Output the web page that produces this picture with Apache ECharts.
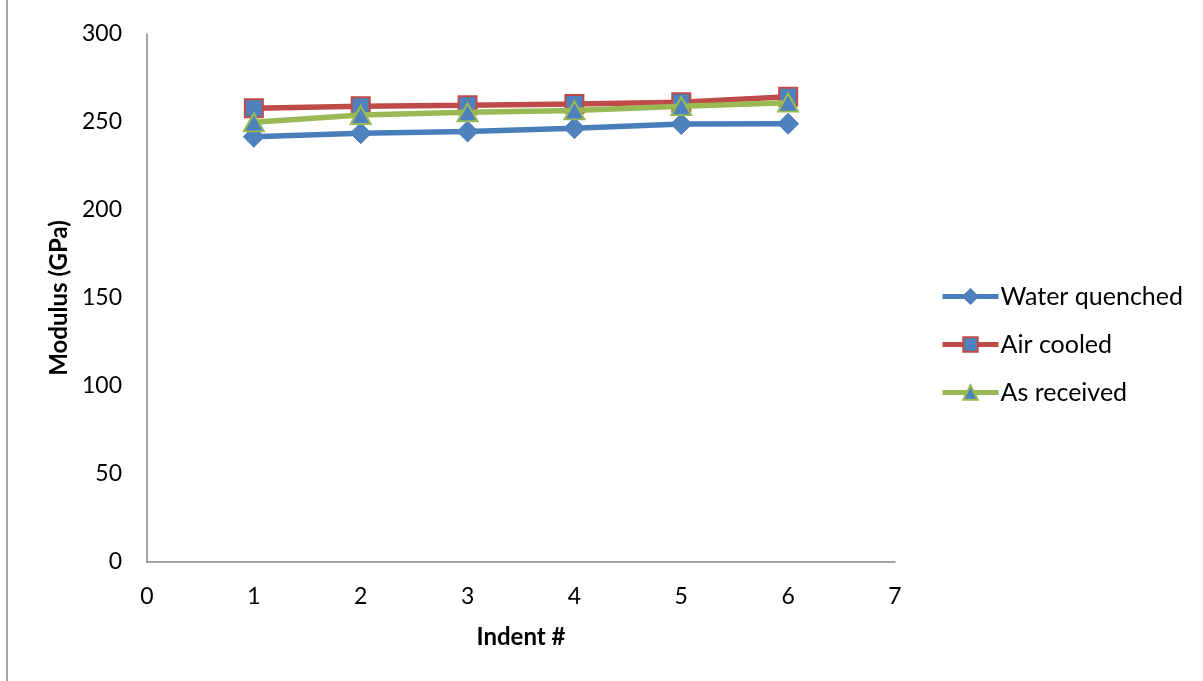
<!DOCTYPE html>
<html>
<head>
<meta charset="utf-8">
<script src="https://cdn.jsdelivr.net/npm/echarts@6/dist/echarts.min.js"></script>
<style>
html,body{margin:0;padding:0;background:#fff;}
#chart{width:1203px;height:681px;}
</style>
</head>
<body>
<div id="chart"></div>
<script>
const indents = [1, 2, 3, 4, 5, 6];
const waterQuenched = [241.6, 243.6, 244.6, 246.5, 248.8, 249.0];
const airCooled = [257.8, 259.0, 259.5, 260.2, 261.2, 264.3];
const asReceived = [249.8, 254.0, 255.5, 256.6, 259.0, 261.0];
const xTicks = [0, 1, 2, 3, 4, 5, 6, 7];
const yTicks = [0, 50, 100, 150, 200, 250, 300];

const FONT = 'Lato';
const pairs = vals => indents.map((x, i) => [x, vals[i]]);

const chart = echarts.init(document.getElementById('chart'), null, {renderer: 'canvas'});
chart.setOption({
  animation: false,
  backgroundColor: '#fff',
  textStyle: {fontFamily: FONT},
  graphic: [{
    type: 'line',
    shape: {x1: 7, y1: 0, x2: 7, y2: 681},
    style: {stroke: '#868686', lineWidth: 1.5}
  }],
  grid: {left: 147, right: 308, top: 34, bottom: 119, containLabel: false},
  xAxis: {
    type: 'value',
    min: xTicks[0], max: xTicks[xTicks.length - 1], interval: 1,
    name: 'Indent #', nameLocation: 'middle', nameGap: 63,
    nameTextStyle: {fontFamily: FONT, fontSize: 24, fontWeight: 'bold', color: '#000'},
    axisLine: {lineStyle: {color: '#868686', width: 1.5}},
    axisTick: {show: false},
    splitLine: {show: false},
    axisLabel: {margin: 23, fontFamily: FONT, fontSize: 23, color: '#000'}
  },
  yAxis: {
    type: 'value',
    min: yTicks[0], max: yTicks[yTicks.length - 1], interval: 50,
    name: 'Modulus (GPa)', nameLocation: 'middle', nameGap: 74, nameRotate: 90,
    nameTextStyle: {fontFamily: FONT, fontSize: 24, fontWeight: 'bold', color: '#000'},
    axisLine: {show: true, lineStyle: {color: '#868686', width: 1.5}},
    axisTick: {show: false},
    splitLine: {show: false},
    axisLabel: {margin: 25, fontFamily: FONT, fontSize: 23, color: '#000'}
  },
  legend: {
    orient: 'vertical',
    left: 935, top: 279,
    itemGap: 23,
    itemWidth: 56, itemHeight: 18,
    lineStyle: {width: 5},
    textStyle: {fontFamily: FONT, fontSize: 25, color: '#000', padding: [0, 0, 0, -3]},
    data: ['Water quenched', 'Air cooled', 'As received']
  },
  series: [
    {
      name: 'Water quenched', type: 'line', data: pairs(waterQuenched),
      symbol: 'diamond', symbolSize: 21,
      lineStyle: {color: '#4A7EBB', width: 5.5},
      itemStyle: {color: '#4F81BD', borderColor: '#4A7EBB', borderWidth: 1},
      color: '#4A7EBB', z: 3
    },
    {
      name: 'Air cooled', type: 'line', data: pairs(airCooled),
      symbol: 'rect', symbolSize: 18,
      lineStyle: {color: '#BE4B48', width: 5.5},
      itemStyle: {color: '#4F81BD', borderColor: '#BE4B48', borderWidth: 2},
      color: '#BE4B48', z: 2
    },
    {
      name: 'As received', type: 'line', data: pairs(asReceived),
      symbol: 'triangle', symbolSize: [20, 18],
      lineStyle: {color: '#98B954', width: 5.5},
      itemStyle: {color: '#4F81BD', borderColor: '#98B954', borderWidth: 2},
      color: '#98B954', z: 4
    }
  ]
});
</script>
</body>
</html>
